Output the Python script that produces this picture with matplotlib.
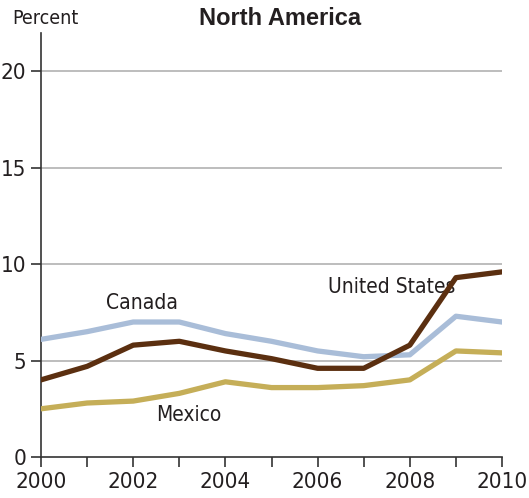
import matplotlib.pyplot as plt
from matplotlib import font_manager

years = list(range(2000, 2011))
united_states = [4.0, 4.7, 5.8, 6.0, 5.5, 5.1, 4.6, 4.6, 5.8, 9.3, 9.6]
canada = [6.1, 6.5, 7.0, 7.0, 6.4, 6.0, 5.5, 5.2, 5.3, 7.3, 7.0]
mexico = [2.5, 2.8, 2.9, 3.3, 3.9, 3.6, 3.6, 3.7, 4.0, 5.5, 5.4]

US_CLR = '#5b2f10'
CA_CLR = '#a9bdd8'
MX_CLR = '#c5ae58'
TXT = '#231f20'

names = sorted({f.name + ' | ' + str(f.stretch) for f in font_manager.fontManager.ttflist})
print(names)

COND = dict(family='DejaVu Sans', stretch='condensed')

fig = plt.figure(figsize=(5.29, 4.98), dpi=100)
ax = fig.add_axes([0.0775, 0.0823, 0.8715, 0.852])

for v in [5, 10, 15, 20]:
    ax.axhline(v, color='#bdbdbd', lw=1.4, zorder=1)

ax.plot(years, canada, color=CA_CLR, lw=3.8, zorder=3)
ax.plot(years, mexico, color=MX_CLR, lw=3.8, zorder=3)
ax.plot(years, united_states, color=US_CLR, lw=3.8, zorder=4)

ax.text(2002.2, 8.0, 'Canada', fontsize=15, color=TXT,
        ha='center', va='center', **COND)
ax.text(2007.6, 8.8, 'United States', fontsize=15, color=TXT,
        ha='center', va='center', **COND)
ax.text(2003.2, 2.2, 'Mexico', fontsize=15, color=TXT,
        ha='center', va='center', **COND)

ax.set_xlim(2000, 2010)
ax.set_ylim(0, 22)
ax.set_xticks(years)
ax.set_xticklabels([str(y) if y % 2 == 0 else '' for y in years])
ax.set_yticks([0, 5, 10, 15, 20])

for s in ['top', 'right']:
    ax.spines[s].set_visible(False)
ax.spines['left'].set_color('#333333')
ax.spines['bottom'].set_color('#333333')
ax.spines['left'].set_linewidth(1.2)
ax.spines['bottom'].set_linewidth(1.2)
ax.tick_params(axis='both', direction='out', length=7, width=1.2,
               color='#333333', labelcolor=TXT, labelsize=16)
ax.tick_params(axis='x', pad=4)
for lab in ax.get_xticklabels() + ax.get_yticklabels():
    lab.set_family('DejaVu Sans')
    lab.set_stretch('condensed')

fig.text(0.023, 0.962, 'Percent', fontsize=14, color=TXT,
         ha='left', va='center', **COND)
fig.text(0.53, 0.962, 'North America', fontsize=17, fontweight='bold',
         family='Liberation Sans', color=TXT,
         ha='center', va='center')

fig.savefig('out.png', dpi=100)
